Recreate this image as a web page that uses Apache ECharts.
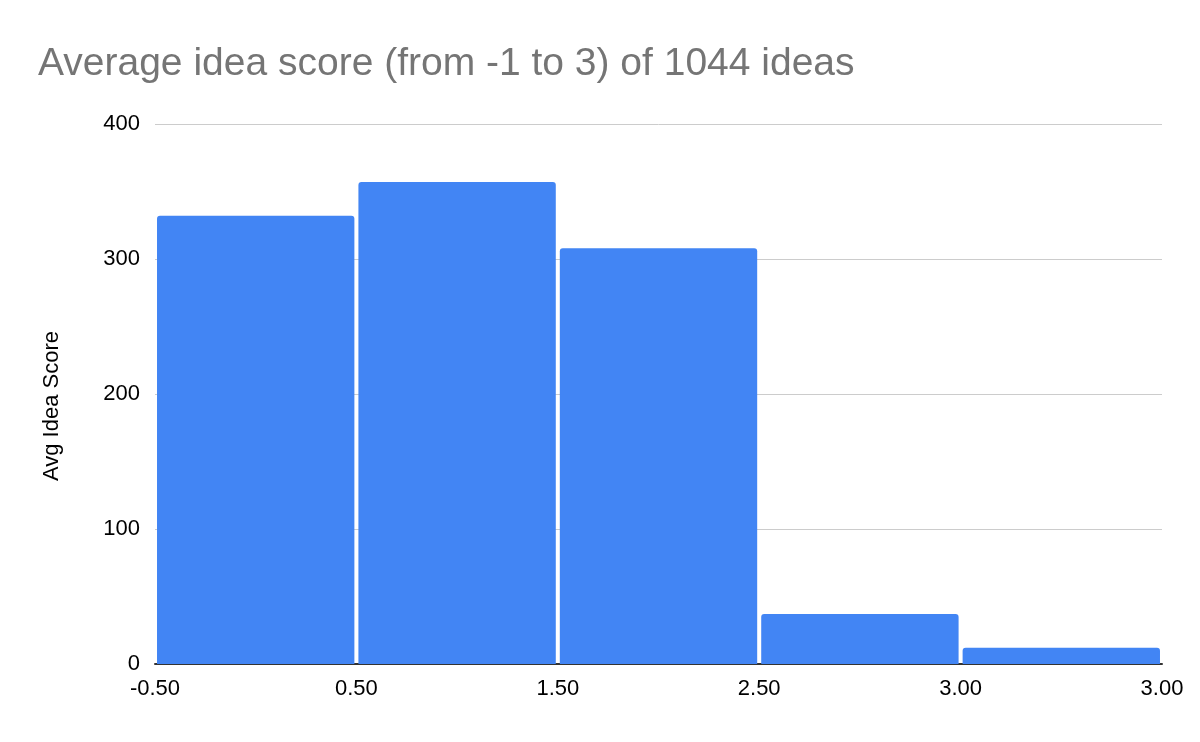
<!DOCTYPE html>
<html>
<head>
<meta charset="utf-8">
<script src="https://cdn.jsdelivr.net/npm/echarts@6/dist/echarts.min.js"></script>
<style>html,body{margin:0;padding:0;background:#fff}#c{width:1200px;height:742px}</style>
</head>
<body>
<div id="c"></div>
<script>
const titleText = "Average idea score (from -1 to 3) of 1044 ideas";
const yAxisName = "Avg Idea Score";
const binCategories = ["b1", "b2", "b3", "b4", "b5"];
const binCounts = [332, 357, 308, 37, 12];
const edgeLabels = ["-0.50", "0.50", "1.50", "2.50", "3.00", "3.00"];
const yTicks = [0, 100, 200, 300, 400];

const FONT = 'Liberation Sans, Arial, sans-serif';
const chart = echarts.init(document.getElementById('c'));
chart.setOption({
  animation: false,
  backgroundColor: '#fff',
  title: {
    text: titleText,
    left: 33, top: 40,
    textStyle: { fontFamily: FONT, fontSize: 39, fontWeight: 'normal', color: '#757575' }
  },
  grid: { left: 155, right: 38, top: 124, bottom: 78 },
  xAxis: [
    {
      type: 'category', data: binCategories, position: 'bottom',
      axisLine: { show: true, lineStyle: { color: '#333', width: 2 } },
      axisTick: { show: false }, axisLabel: { show: false }, splitLine: { show: false }
    },
    {
      type: 'value', min: 0, max: edgeLabels.length - 1, interval: 1, position: 'bottom',
      axisLine: { show: false }, axisTick: { show: false }, splitLine: { show: false },
      axisLabel: {
        show: true, margin: 14, color: '#000', fontSize: 22, fontFamily: FONT,
        formatter: v => edgeLabels[Math.round(v)]
      }
    }
  ],
  yAxis: {
    type: 'value', min: yTicks[0], max: yTicks[yTicks.length - 1], interval: 100,
    name: yAxisName, nameLocation: 'middle', nameGap: 92, nameRotate: 90,
    nameTextStyle: { fontSize: 22, color: '#000', fontFamily: FONT, padding: [0, 24, 0, 0] },
    axisLine: { show: false }, axisTick: { show: false },
    axisLabel: { color: '#000', fontSize: 22, margin: 15, fontFamily: FONT },
    splitLine: { lineStyle: { color: '#cccccc', width: 1 } }
  },
  series: [{
    type: 'bar', xAxisIndex: 0, data: binCounts,
    barCategoryGap: '2%',
    itemStyle: { color: '#4285F4', borderRadius: [3, 3, 0, 0] }
  }]
});
</script>
</body>
</html>
